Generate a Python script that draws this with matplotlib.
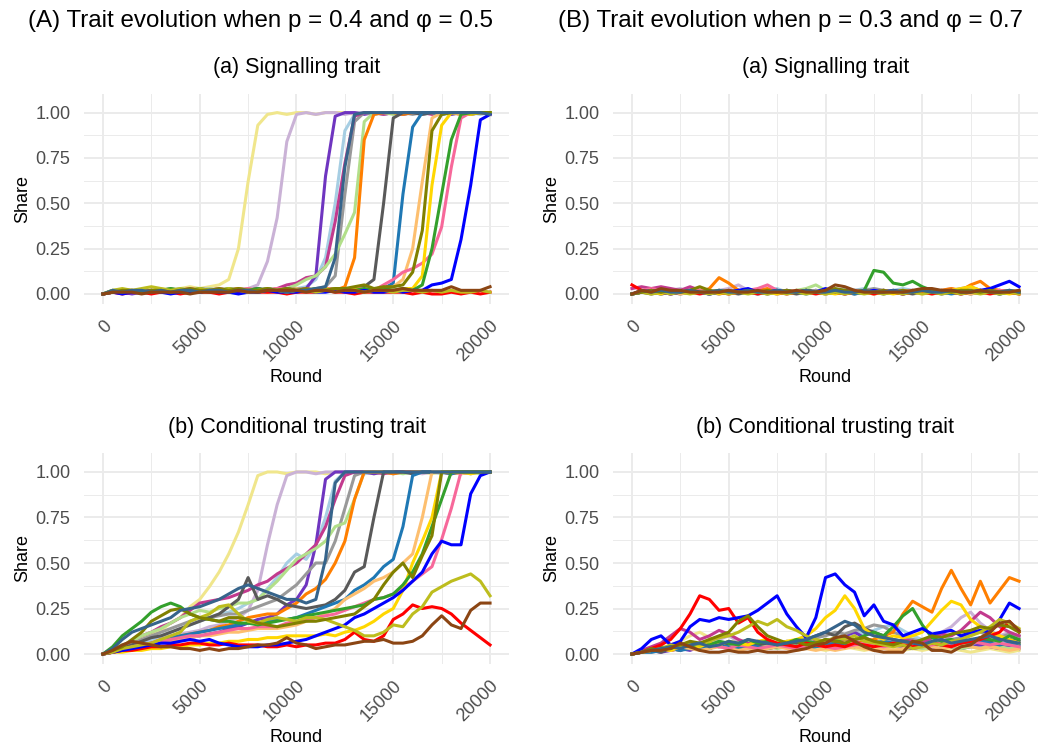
import matplotlib.pyplot as plt

plt.rcParams['font.family'] = ['Liberation Sans', 'DejaVu Sans']

# rounds at which the share is read (every 500 rounds)
ROUNDS = list(range(0, 20001, 500))

# one colour per simulation run, same order in every panel
COLOURS = ['#F0E68C', '#CAB2D6', '#A6CEE3', '#6F35C0', '#999999',
           '#C23A8E', '#B2DF8A', '#FF7F00', '#595959', '#1F78B4',
           '#FDBF6F', '#F7689A', '#FFD700', '#33A02C', '#FF0000',
           '#0000FF', '#BDBD1E', '#808000', '#36648B', '#8B4513']

MAIN_TITLES = ['(A) Trait evolution when p = 0.4 and \u03c6 = 0.5',
               '(B) Trait evolution when p = 0.3 and \u03c6 = 0.7']
SUB_TITLES = ['(a) Signalling trait', '(b) Conditional trusting trait']

# (A) signalling trait
SIG_A = [
    [0.00, 0.01, 0.01, 0.02, 0.01, 0.02, 0.03, 0.02, 0.03, 0.04,
     0.03, 0.04, 0.05, 0.08, 0.25, 0.62, 0.93, 0.99, 1.00, 0.99,
     1.00, 1.00, 0.99, 1.00, 1.00, 1.00, 0.99, 1.00, 1.00, 1.00,
     1.00, 0.99, 1.00, 1.00, 1.00, 1.00, 0.99, 1.00, 1.00, 1.00, 1.00],
    [0.00, 0.01, 0.02, 0.01, 0.02, 0.01, 0.02, 0.02, 0.03, 0.02,
     0.03, 0.03, 0.02, 0.03, 0.03, 0.03, 0.05, 0.18, 0.42, 0.84,
     0.99, 1.00, 0.99, 1.00, 1.00, 0.99, 1.00, 1.00, 1.00, 0.99,
     1.00, 1.00, 1.00, 0.99, 1.00, 1.00, 1.00, 1.00, 0.99, 1.00, 1.00],
    [0.00, 0.02, 0.01, 0.02, 0.01, 0.01, 0.02, 0.01, 0.02, 0.02,
     0.01, 0.02, 0.03, 0.02, 0.02, 0.03, 0.02, 0.03, 0.02, 0.03,
     0.03, 0.04, 0.08, 0.20, 0.50, 0.90, 0.99, 1.00, 1.00, 0.99,
     1.00, 1.00, 1.00, 0.99, 1.00, 1.00, 1.00, 1.00, 1.00, 0.99, 1.00],
    [0.00, 0.01, 0.01, 0.00, 0.01, 0.02, 0.01, 0.01, 0.02, 0.01,
     0.01, 0.02, 0.01, 0.02, 0.02, 0.01, 0.02, 0.02, 0.03, 0.02,
     0.02, 0.03, 0.10, 0.65, 0.98, 1.00, 1.00, 0.99, 1.00, 1.00,
     1.00, 0.99, 1.00, 1.00, 1.00, 1.00, 0.99, 1.00, 1.00, 1.00, 1.00],
    [0.00, 0.01, 0.02, 0.02, 0.01, 0.02, 0.02, 0.03, 0.02, 0.01,
     0.02, 0.02, 0.03, 0.02, 0.03, 0.02, 0.02, 0.03, 0.02, 0.03,
     0.03, 0.02, 0.03, 0.04, 0.10, 0.55, 0.95, 1.00, 0.99, 1.00,
     1.00, 1.00, 0.99, 1.00, 1.00, 1.00, 1.00, 0.99, 1.00, 1.00, 1.00],
    [0.00, 0.01, 0.02, 0.01, 0.02, 0.01, 0.01, 0.02, 0.02, 0.01,
     0.02, 0.02, 0.01, 0.02, 0.02, 0.02, 0.03, 0.02, 0.03, 0.05,
     0.06, 0.09, 0.10, 0.15, 0.40, 0.72, 0.98, 1.00, 1.00, 0.99,
     1.00, 1.00, 1.00, 1.00, 0.99, 1.00, 1.00, 1.00, 1.00, 1.00, 0.99],
    [0.00, 0.02, 0.01, 0.01, 0.02, 0.02, 0.01, 0.02, 0.03, 0.02,
     0.02, 0.03, 0.02, 0.02, 0.03, 0.02, 0.02, 0.03, 0.02, 0.03,
     0.05, 0.08, 0.10, 0.15, 0.22, 0.33, 0.45, 0.95, 1.00, 1.00,
     0.99, 1.00, 1.00, 1.00, 1.00, 0.99, 1.00, 1.00, 1.00, 1.00, 1.00],
    [0.00, 0.01, 0.01, 0.02, 0.01, 0.02, 0.01, 0.02, 0.02, 0.03,
     0.02, 0.02, 0.01, 0.02, 0.03, 0.02, 0.02, 0.01, 0.02, 0.02,
     0.03, 0.02, 0.02, 0.03, 0.02, 0.04, 0.20, 0.85, 0.99, 1.00,
     1.00, 0.99, 1.00, 1.00, 1.00, 1.00, 1.00, 0.99, 1.00, 1.00, 1.00],
    [0.00, 0.01, 0.01, 0.01, 0.02, 0.01, 0.02, 0.01, 0.02, 0.02,
     0.01, 0.02, 0.02, 0.01, 0.02, 0.02, 0.03, 0.02, 0.02, 0.03,
     0.02, 0.03, 0.02, 0.03, 0.02, 0.03, 0.03, 0.04, 0.08, 0.50,
     0.97, 1.00, 1.00, 0.99, 1.00, 1.00, 1.00, 1.00, 0.99, 1.00, 1.00],
    [0.00, 0.01, 0.02, 0.01, 0.01, 0.02, 0.01, 0.02, 0.01, 0.02,
     0.02, 0.01, 0.02, 0.02, 0.01, 0.02, 0.02, 0.03, 0.02, 0.02,
     0.03, 0.02, 0.02, 0.03, 0.02, 0.03, 0.02, 0.03, 0.03, 0.03,
     0.06, 0.55, 0.92, 1.00, 1.00, 0.99, 1.00, 1.00, 1.00, 1.00, 1.00],
    [0.00, 0.01, 0.01, 0.02, 0.02, 0.01, 0.02, 0.02, 0.01, 0.02,
     0.02, 0.02, 0.03, 0.02, 0.02, 0.03, 0.02, 0.02, 0.03, 0.02,
     0.03, 0.02, 0.03, 0.02, 0.03, 0.03, 0.02, 0.03, 0.03, 0.03,
     0.04, 0.08, 0.25, 0.62, 0.97, 1.00, 1.00, 0.99, 1.00, 1.00, 1.00],
    [0.00, 0.01, 0.02, 0.01, 0.02, 0.02, 0.01, 0.02, 0.02, 0.03,
     0.02, 0.02, 0.03, 0.02, 0.02, 0.03, 0.02, 0.02, 0.03, 0.03,
     0.02, 0.03, 0.02, 0.03, 0.03, 0.02, 0.03, 0.03, 0.02, 0.05,
     0.08, 0.12, 0.14, 0.17, 0.22, 0.37, 0.70, 0.97, 1.00, 1.00, 0.99],
    [0.00, 0.01, 0.01, 0.01, 0.02, 0.01, 0.01, 0.02, 0.01, 0.02,
     0.01, 0.02, 0.02, 0.01, 0.02, 0.02, 0.01, 0.02, 0.02, 0.02,
     0.01, 0.02, 0.02, 0.03, 0.02, 0.02, 0.03, 0.02, 0.02, 0.03,
     0.02, 0.03, 0.03, 0.10, 0.60, 0.93, 1.00, 1.00, 0.99, 1.00, 1.00],
    [0.00, 0.02, 0.02, 0.01, 0.02, 0.01, 0.02, 0.03, 0.02, 0.02,
     0.03, 0.02, 0.02, 0.03, 0.02, 0.02, 0.03, 0.02, 0.02, 0.03,
     0.02, 0.02, 0.03, 0.02, 0.03, 0.02, 0.02, 0.03, 0.02, 0.03,
     0.02, 0.03, 0.02, 0.05, 0.25, 0.55, 0.85, 0.99, 1.00, 1.00, 1.00],
    [0.00, 0.01, 0.00, 0.01, 0.01, 0.00, 0.01, 0.01, 0.00, 0.01,
     0.01, 0.01, 0.00, 0.01, 0.01, 0.02, 0.01, 0.01, 0.01, 0.00,
     0.01, 0.01, 0.01, 0.02, 0.01, 0.01, 0.00, 0.01, 0.01, 0.01,
     0.01, 0.01, 0.00, 0.01, 0.00, 0.00, 0.01, 0.00, 0.01, 0.00, 0.01],
    [0.00, 0.01, 0.00, 0.01, 0.01, 0.02, 0.01, 0.00, 0.01, 0.01,
     0.01, 0.02, 0.01, 0.01, 0.00, 0.01, 0.01, 0.02, 0.01, 0.01,
     0.01, 0.02, 0.01, 0.01, 0.02, 0.01, 0.01, 0.02, 0.01, 0.01,
     0.02, 0.01, 0.02, 0.02, 0.05, 0.06, 0.08, 0.30, 0.60, 0.96, 0.99],
    [0.00, 0.02, 0.03, 0.02, 0.03, 0.04, 0.03, 0.02, 0.03, 0.02,
     0.03, 0.02, 0.02, 0.03, 0.02, 0.01, 0.02, 0.03, 0.02, 0.01,
     0.02, 0.02, 0.01, 0.02, 0.03, 0.02, 0.02, 0.01, 0.02, 0.02,
     0.01, 0.02, 0.02, 0.01, 0.02, 0.01, 0.02, 0.01, 0.01, 0.02, 0.01],
    [0.00, 0.01, 0.02, 0.02, 0.01, 0.02, 0.02, 0.01, 0.02, 0.03,
     0.02, 0.02, 0.03, 0.02, 0.03, 0.02, 0.02, 0.03, 0.02, 0.03,
     0.02, 0.03, 0.02, 0.02, 0.03, 0.03, 0.04, 0.05, 0.03, 0.04,
     0.04, 0.05, 0.12, 0.35, 0.90, 0.99, 1.00, 1.00, 1.00, 1.00, 1.00],
    [0.00, 0.02, 0.01, 0.02, 0.02, 0.01, 0.02, 0.01, 0.02, 0.02,
     0.01, 0.02, 0.02, 0.01, 0.02, 0.02, 0.01, 0.02, 0.02, 0.01,
     0.02, 0.02, 0.03, 0.04, 0.20, 0.70, 0.99, 1.00, 1.00, 1.00,
     1.00, 1.00, 1.00, 1.00, 1.00, 1.00, 1.00, 1.00, 1.00, 1.00, 0.99],
    [0.00, 0.01, 0.01, 0.01, 0.00, 0.01, 0.01, 0.01, 0.01, 0.00,
     0.01, 0.01, 0.01, 0.01, 0.02, 0.01, 0.01, 0.02, 0.02, 0.02,
     0.02, 0.01, 0.02, 0.02, 0.01, 0.02, 0.02, 0.01, 0.02, 0.02,
     0.02, 0.03, 0.02, 0.02, 0.02, 0.02, 0.04, 0.02, 0.02, 0.02, 0.04],
]

# (A) conditional trusting trait
TRUST_A = [
    [0.00, 0.02, 0.04, 0.06, 0.08, 0.11, 0.13, 0.17, 0.20, 0.26,
     0.30, 0.37, 0.45, 0.55, 0.67, 0.82, 0.98, 1.00, 1.00, 0.99,
     1.00, 1.00, 1.00, 0.99, 1.00, 1.00, 1.00, 1.00, 0.99, 1.00,
     1.00, 1.00, 1.00, 1.00, 0.99, 1.00, 1.00, 1.00, 1.00, 1.00, 1.00],
    [0.00, 0.01, 0.03, 0.05, 0.06, 0.08, 0.09, 0.10, 0.11, 0.12,
     0.13, 0.15, 0.16, 0.18, 0.20, 0.24, 0.35, 0.60, 0.82, 0.98,
     1.00, 1.00, 0.99, 1.00, 1.00, 1.00, 1.00, 0.99, 1.00, 1.00,
     1.00, 1.00, 1.00, 0.99, 1.00, 1.00, 1.00, 1.00, 1.00, 1.00, 1.00],
    [0.00, 0.02, 0.03, 0.05, 0.07, 0.08, 0.10, 0.12, 0.14, 0.16,
     0.18, 0.20, 0.22, 0.23, 0.25, 0.28, 0.30, 0.36, 0.42, 0.50,
     0.55, 0.52, 0.60, 0.75, 0.95, 1.00, 1.00, 0.99, 1.00, 1.00,
     1.00, 1.00, 1.00, 1.00, 1.00, 0.99, 1.00, 1.00, 1.00, 1.00, 1.00],
    [0.00, 0.01, 0.02, 0.03, 0.04, 0.05, 0.06, 0.07, 0.08, 0.09,
     0.10, 0.11, 0.12, 0.14, 0.15, 0.17, 0.19, 0.20, 0.22, 0.27,
     0.30, 0.38, 0.60, 0.96, 1.00, 1.00, 1.00, 1.00, 0.99, 1.00,
     1.00, 1.00, 1.00, 1.00, 1.00, 1.00, 0.99, 1.00, 1.00, 1.00, 1.00],
    [0.00, 0.02, 0.04, 0.06, 0.08, 0.10, 0.12, 0.14, 0.16, 0.18,
     0.20, 0.20, 0.21, 0.22, 0.22, 0.24, 0.26, 0.28, 0.30, 0.34,
     0.38, 0.44, 0.50, 0.50, 0.62, 0.80, 0.98, 1.00, 1.00, 1.00,
     0.99, 1.00, 1.00, 1.00, 1.00, 1.00, 1.00, 1.00, 0.99, 1.00, 1.00],
    [0.00, 0.02, 0.04, 0.07, 0.10, 0.12, 0.15, 0.17, 0.20, 0.24,
     0.28, 0.29, 0.30, 0.31, 0.33, 0.35, 0.38, 0.40, 0.44, 0.47,
     0.50, 0.55, 0.60, 0.70, 0.85, 0.98, 1.00, 1.00, 1.00, 0.99,
     1.00, 1.00, 1.00, 1.00, 1.00, 1.00, 1.00, 0.99, 1.00, 1.00, 1.00],
    [0.00, 0.03, 0.05, 0.07, 0.10, 0.12, 0.14, 0.17, 0.20, 0.22,
     0.24, 0.23, 0.25, 0.26, 0.28, 0.28, 0.30, 0.35, 0.40, 0.46,
     0.52, 0.55, 0.58, 0.62, 0.70, 0.72, 0.85, 1.00, 1.00, 1.00,
     1.00, 0.99, 1.00, 1.00, 1.00, 1.00, 1.00, 1.00, 1.00, 0.99, 1.00],
    [0.00, 0.01, 0.02, 0.03, 0.05, 0.06, 0.08, 0.09, 0.10, 0.11,
     0.12, 0.13, 0.15, 0.16, 0.18, 0.20, 0.21, 0.22, 0.22, 0.25,
     0.28, 0.33, 0.36, 0.41, 0.50, 0.62, 0.85, 1.00, 1.00, 1.00,
     0.99, 1.00, 1.00, 1.00, 1.00, 1.00, 0.99, 1.00, 1.00, 1.00, 1.00],
    [0.00, 0.02, 0.03, 0.05, 0.07, 0.09, 0.10, 0.12, 0.14, 0.16,
     0.18, 0.20, 0.22, 0.26, 0.30, 0.42, 0.30, 0.32, 0.30, 0.27,
     0.26, 0.25, 0.26, 0.27, 0.30, 0.35, 0.45, 0.48, 0.75, 1.00,
     1.00, 1.00, 0.99, 1.00, 1.00, 1.00, 1.00, 1.00, 1.00, 1.00, 1.00],
    [0.00, 0.01, 0.02, 0.04, 0.05, 0.06, 0.07, 0.09, 0.10, 0.11,
     0.12, 0.13, 0.14, 0.15, 0.16, 0.17, 0.17, 0.18, 0.19, 0.19,
     0.20, 0.22, 0.24, 0.26, 0.28, 0.30, 0.35, 0.38, 0.42, 0.48,
     0.52, 0.70, 0.98, 1.00, 1.00, 1.00, 0.99, 1.00, 1.00, 1.00, 1.00],
    [0.00, 0.01, 0.02, 0.03, 0.04, 0.05, 0.06, 0.07, 0.08, 0.09,
     0.10, 0.10, 0.11, 0.12, 0.12, 0.13, 0.14, 0.14, 0.14, 0.15,
     0.16, 0.18, 0.20, 0.22, 0.25, 0.30, 0.33, 0.36, 0.40, 0.42,
     0.45, 0.50, 0.55, 0.75, 1.00, 1.00, 1.00, 0.99, 1.00, 1.00, 1.00],
    [0.00, 0.01, 0.02, 0.04, 0.05, 0.06, 0.07, 0.08, 0.09, 0.10,
     0.10, 0.11, 0.12, 0.13, 0.14, 0.14, 0.15, 0.15, 0.15, 0.17,
     0.18, 0.19, 0.20, 0.21, 0.22, 0.24, 0.26, 0.28, 0.30, 0.31,
     0.33, 0.36, 0.40, 0.44, 0.48, 0.63, 0.80, 1.00, 1.00, 1.00, 1.00],
    [0.00, 0.01, 0.01, 0.02, 0.02, 0.03, 0.03, 0.04, 0.04, 0.05,
     0.05, 0.06, 0.06, 0.07, 0.07, 0.08, 0.08, 0.09, 0.09, 0.10,
     0.10, 0.10, 0.10, 0.11, 0.10, 0.12, 0.13, 0.15, 0.18, 0.22,
     0.25, 0.35, 0.50, 0.62, 0.75, 1.00, 1.00, 1.00, 0.99, 1.00, 1.00],
    [0.00, 0.04, 0.10, 0.14, 0.18, 0.23, 0.26, 0.28, 0.26, 0.22,
     0.20, 0.19, 0.18, 0.18, 0.17, 0.17, 0.16, 0.17, 0.18, 0.19,
     0.20, 0.21, 0.22, 0.23, 0.24, 0.25, 0.26, 0.27, 0.30, 0.31,
     0.33, 0.38, 0.45, 0.55, 0.70, 0.85, 1.00, 1.00, 1.00, 1.00, 1.00],
    [0.00, 0.01, 0.02, 0.02, 0.03, 0.04, 0.04, 0.05, 0.05, 0.06,
     0.06, 0.05, 0.05, 0.06, 0.05, 0.05, 0.05, 0.04, 0.04, 0.05,
     0.04, 0.05, 0.05, 0.06, 0.06, 0.08, 0.12, 0.08, 0.07, 0.10,
     0.19, 0.22, 0.27, 0.25, 0.26, 0.25, 0.22, 0.17, 0.13, 0.09, 0.05],
    [0.00, 0.01, 0.02, 0.03, 0.04, 0.05, 0.06, 0.06, 0.07, 0.08,
     0.07, 0.08, 0.06, 0.05, 0.04, 0.04, 0.04, 0.05, 0.05, 0.06,
     0.07, 0.08, 0.10, 0.12, 0.14, 0.16, 0.20, 0.22, 0.25, 0.28,
     0.31, 0.35, 0.40, 0.45, 0.55, 0.62, 0.60, 0.60, 0.88, 0.98, 1.00],
    [0.00, 0.01, 0.03, 0.04, 0.05, 0.06, 0.08, 0.10, 0.12, 0.18,
     0.20, 0.22, 0.26, 0.27, 0.22, 0.18, 0.17, 0.19, 0.20, 0.19,
     0.18, 0.20, 0.20, 0.19, 0.17, 0.15, 0.13, 0.10, 0.10, 0.12,
     0.16, 0.15, 0.22, 0.26, 0.34, 0.37, 0.40, 0.42, 0.44, 0.40, 0.32],
    [0.00, 0.02, 0.04, 0.08, 0.12, 0.18, 0.21, 0.24, 0.25, 0.22,
     0.20, 0.19, 0.18, 0.20, 0.20, 0.19, 0.17, 0.16, 0.15, 0.16,
     0.17, 0.18, 0.18, 0.19, 0.20, 0.21, 0.22, 0.26, 0.30, 0.38,
     0.45, 0.50, 0.42, 0.54, 0.65, 1.00, 1.00, 1.00, 1.00, 1.00, 1.00],
    [0.00, 0.03, 0.08, 0.12, 0.14, 0.16, 0.18, 0.20, 0.24, 0.25,
     0.26, 0.28, 0.30, 0.33, 0.36, 0.38, 0.36, 0.34, 0.32, 0.30,
     0.30, 0.28, 0.30, 0.52, 0.94, 1.00, 1.00, 1.00, 1.00, 1.00,
     1.00, 1.00, 1.00, 1.00, 1.00, 1.00, 1.00, 1.00, 1.00, 1.00, 1.00],
    [0.00, 0.02, 0.05, 0.07, 0.06, 0.05, 0.04, 0.04, 0.03, 0.03,
     0.02, 0.03, 0.02, 0.03, 0.03, 0.04, 0.05, 0.05, 0.06, 0.09,
     0.06, 0.05, 0.03, 0.04, 0.05, 0.05, 0.06, 0.07, 0.07, 0.08,
     0.06, 0.06, 0.07, 0.10, 0.16, 0.21, 0.16, 0.14, 0.24, 0.28, 0.28],
]

# (B) signalling trait
SIG_B = [
    [0.00, 0.01, 0.00, 0.01, 0.01, 0.02, 0.01, 0.01, 0.00, 0.01,
     0.01, 0.02, 0.01, 0.01, 0.00, 0.01, 0.01, 0.02, 0.01, 0.01,
     0.00, 0.01, 0.01, 0.02, 0.01, 0.00, 0.01, 0.01, 0.02, 0.01,
     0.01, 0.00, 0.01, 0.02, 0.01, 0.01, 0.02, 0.01, 0.00, 0.01, 0.01],
    [0.00, 0.01, 0.02, 0.01, 0.02, 0.03, 0.01, 0.02, 0.01, 0.02,
     0.03, 0.05, 0.02, 0.01, 0.02, 0.01, 0.02, 0.01, 0.02, 0.01,
     0.02, 0.01, 0.02, 0.01, 0.02, 0.01, 0.02, 0.01, 0.02, 0.01,
     0.02, 0.01, 0.02, 0.03, 0.01, 0.02, 0.01, 0.02, 0.01, 0.02, 0.01],
    [0.00, 0.01, 0.02, 0.01, 0.01, 0.02, 0.01, 0.02, 0.02, 0.01,
     0.02, 0.01, 0.02, 0.01, 0.02, 0.03, 0.01, 0.02, 0.01, 0.02,
     0.01, 0.02, 0.03, 0.02, 0.03, 0.02, 0.01, 0.02, 0.03, 0.02,
     0.01, 0.02, 0.01, 0.02, 0.01, 0.02, 0.01, 0.02, 0.01, 0.02, 0.01],
    [0.00, 0.01, 0.01, 0.00, 0.01, 0.01, 0.02, 0.01, 0.01, 0.00,
     0.01, 0.01, 0.02, 0.01, 0.01, 0.00, 0.01, 0.01, 0.01, 0.02,
     0.01, 0.01, 0.00, 0.01, 0.01, 0.02, 0.01, 0.01, 0.00, 0.01,
     0.01, 0.02, 0.01, 0.01, 0.00, 0.01, 0.01, 0.02, 0.01, 0.01, 0.01],
    [0.00, 0.01, 0.01, 0.02, 0.01, 0.01, 0.02, 0.01, 0.02, 0.01,
     0.01, 0.02, 0.01, 0.01, 0.02, 0.01, 0.02, 0.01, 0.01, 0.02,
     0.01, 0.02, 0.01, 0.02, 0.02, 0.03, 0.02, 0.01, 0.02, 0.01,
     0.01, 0.02, 0.01, 0.02, 0.03, 0.04, 0.02, 0.01, 0.02, 0.01, 0.01],
    [0.03, 0.04, 0.03, 0.04, 0.03, 0.02, 0.04, 0.02, 0.01, 0.02,
     0.01, 0.02, 0.01, 0.02, 0.01, 0.01, 0.02, 0.01, 0.02, 0.01,
     0.01, 0.02, 0.01, 0.01, 0.02, 0.01, 0.02, 0.01, 0.01, 0.02,
     0.01, 0.02, 0.01, 0.02, 0.01, 0.01, 0.02, 0.01, 0.02, 0.01, 0.01],
    [0.00, 0.01, 0.01, 0.02, 0.01, 0.01, 0.02, 0.01, 0.01, 0.02,
     0.01, 0.01, 0.02, 0.01, 0.01, 0.02, 0.01, 0.02, 0.03, 0.05,
     0.02, 0.01, 0.02, 0.01, 0.02, 0.01, 0.02, 0.01, 0.01, 0.02,
     0.01, 0.02, 0.01, 0.01, 0.02, 0.01, 0.01, 0.02, 0.01, 0.01, 0.01],
    [0.00, 0.01, 0.01, 0.02, 0.01, 0.01, 0.02, 0.01, 0.03, 0.09,
     0.06, 0.02, 0.01, 0.02, 0.03, 0.01, 0.02, 0.01, 0.02, 0.01,
     0.02, 0.01, 0.02, 0.01, 0.02, 0.01, 0.02, 0.01, 0.02, 0.01,
     0.02, 0.01, 0.02, 0.03, 0.02, 0.05, 0.07, 0.03, 0.02, 0.01, 0.02],
    [0.00, 0.01, 0.00, 0.01, 0.01, 0.00, 0.01, 0.01, 0.00, 0.01,
     0.01, 0.00, 0.01, 0.01, 0.00, 0.01, 0.01, 0.00, 0.01, 0.01,
     0.00, 0.01, 0.01, 0.00, 0.01, 0.01, 0.00, 0.01, 0.01, 0.00,
     0.01, 0.01, 0.00, 0.01, 0.01, 0.00, 0.01, 0.01, 0.00, 0.01, 0.01],
    [0.00, 0.01, 0.01, 0.00, 0.01, 0.02, 0.01, 0.01, 0.00, 0.01,
     0.01, 0.02, 0.01, 0.00, 0.01, 0.01, 0.02, 0.01, 0.00, 0.01,
     0.01, 0.02, 0.01, 0.00, 0.01, 0.01, 0.02, 0.01, 0.00, 0.01,
     0.01, 0.02, 0.01, 0.00, 0.01, 0.01, 0.02, 0.01, 0.00, 0.01, 0.01],
    [0.00, 0.01, 0.02, 0.01, 0.01, 0.00, 0.01, 0.02, 0.01, 0.01,
     0.00, 0.01, 0.02, 0.01, 0.01, 0.00, 0.01, 0.02, 0.01, 0.01,
     0.00, 0.01, 0.02, 0.01, 0.01, 0.00, 0.01, 0.02, 0.01, 0.01,
     0.00, 0.01, 0.02, 0.01, 0.01, 0.00, 0.01, 0.02, 0.01, 0.01, 0.00],
    [0.00, 0.02, 0.03, 0.02, 0.01, 0.02, 0.01, 0.02, 0.01, 0.01,
     0.02, 0.01, 0.02, 0.03, 0.05, 0.02, 0.01, 0.02, 0.01, 0.01,
     0.02, 0.01, 0.01, 0.02, 0.01, 0.01, 0.02, 0.01, 0.01, 0.02,
     0.01, 0.01, 0.02, 0.01, 0.01, 0.02, 0.01, 0.01, 0.02, 0.01, 0.01],
    [0.00, 0.01, 0.01, 0.00, 0.01, 0.01, 0.02, 0.01, 0.01, 0.00,
     0.01, 0.01, 0.02, 0.01, 0.01, 0.00, 0.01, 0.01, 0.02, 0.01,
     0.01, 0.00, 0.01, 0.01, 0.02, 0.01, 0.01, 0.00, 0.01, 0.01,
     0.02, 0.01, 0.01, 0.02, 0.03, 0.04, 0.02, 0.01, 0.01, 0.00, 0.01],
    [0.00, 0.01, 0.01, 0.02, 0.01, 0.01, 0.02, 0.01, 0.01, 0.02,
     0.01, 0.01, 0.02, 0.01, 0.01, 0.02, 0.01, 0.01, 0.02, 0.01,
     0.01, 0.02, 0.01, 0.01, 0.02, 0.13, 0.12, 0.06, 0.05, 0.07,
     0.04, 0.02, 0.01, 0.01, 0.02, 0.01, 0.01, 0.02, 0.01, 0.01, 0.01],
    [0.05, 0.02, 0.01, 0.01, 0.00, 0.01, 0.01, 0.00, 0.01, 0.01,
     0.00, 0.01, 0.01, 0.00, 0.01, 0.01, 0.00, 0.01, 0.01, 0.00,
     0.01, 0.01, 0.00, 0.01, 0.01, 0.00, 0.01, 0.01, 0.00, 0.01,
     0.01, 0.00, 0.01, 0.01, 0.00, 0.01, 0.01, 0.00, 0.01, 0.01, 0.00],
    [0.00, 0.01, 0.02, 0.01, 0.00, 0.01, 0.02, 0.01, 0.00, 0.01,
     0.01, 0.02, 0.03, 0.01, 0.01, 0.02, 0.01, 0.01, 0.02, 0.01,
     0.03, 0.01, 0.02, 0.01, 0.01, 0.02, 0.01, 0.02, 0.01, 0.01,
     0.02, 0.01, 0.01, 0.02, 0.01, 0.01, 0.02, 0.03, 0.05, 0.07, 0.04],
    [0.00, 0.01, 0.00, 0.01, 0.00, 0.01, 0.00, 0.01, 0.00, 0.01,
     0.00, 0.01, 0.00, 0.01, 0.00, 0.01, 0.00, 0.01, 0.00, 0.01,
     0.00, 0.01, 0.00, 0.01, 0.00, 0.01, 0.00, 0.01, 0.00, 0.01,
     0.00, 0.01, 0.00, 0.01, 0.00, 0.01, 0.00, 0.01, 0.00, 0.01, 0.00],
    [0.00, 0.01, 0.02, 0.01, 0.02, 0.01, 0.02, 0.04, 0.02, 0.01,
     0.02, 0.01, 0.02, 0.01, 0.02, 0.01, 0.02, 0.01, 0.02, 0.01,
     0.02, 0.03, 0.02, 0.01, 0.02, 0.01, 0.02, 0.01, 0.02, 0.01,
     0.02, 0.01, 0.02, 0.01, 0.02, 0.02, 0.01, 0.02, 0.01, 0.02, 0.01],
    [0.00, 0.02, 0.01, 0.02, 0.01, 0.01, 0.02, 0.01, 0.01, 0.02,
     0.01, 0.01, 0.02, 0.01, 0.01, 0.02, 0.01, 0.01, 0.02, 0.01,
     0.01, 0.02, 0.01, 0.01, 0.02, 0.01, 0.01, 0.02, 0.01, 0.01,
     0.02, 0.01, 0.01, 0.02, 0.01, 0.01, 0.02, 0.01, 0.01, 0.02, 0.01],
    [0.00, 0.02, 0.01, 0.03, 0.02, 0.02, 0.01, 0.01, 0.01, 0.01,
     0.02, 0.01, 0.01, 0.02, 0.01, 0.01, 0.01, 0.02, 0.01, 0.01,
     0.02, 0.05, 0.04, 0.02, 0.01, 0.01, 0.01, 0.01, 0.01, 0.02,
     0.03, 0.03, 0.02, 0.02, 0.01, 0.01, 0.02, 0.01, 0.01, 0.01, 0.02],
]

# (B) conditional trusting trait
TRUST_B = [
    [0.00, 0.01, 0.02, 0.03, 0.05, 0.07, 0.10, 0.12, 0.09, 0.07,
     0.05, 0.06, 0.04, 0.05, 0.03, 0.04, 0.05, 0.03, 0.04, 0.03,
     0.02, 0.03, 0.04, 0.03, 0.02, 0.03, 0.04, 0.03, 0.02, 0.03,
     0.02, 0.03, 0.02, 0.03, 0.02, 0.01, 0.02, 0.03, 0.02, 0.01, 0.02],
    [0.00, 0.01, 0.02, 0.03, 0.04, 0.06, 0.05, 0.04, 0.06, 0.08,
     0.10, 0.07, 0.06, 0.05, 0.07, 0.06, 0.05, 0.06, 0.07, 0.08,
     0.06, 0.07, 0.09, 0.11, 0.13, 0.10, 0.08, 0.07, 0.06, 0.08,
     0.07, 0.09, 0.12, 0.15, 0.20, 0.23, 0.17, 0.13, 0.10, 0.12, 0.09],
    [0.00, 0.01, 0.02, 0.01, 0.03, 0.04, 0.03, 0.05, 0.04, 0.06,
     0.05, 0.04, 0.06, 0.05, 0.07, 0.06, 0.05, 0.07, 0.08, 0.06,
     0.07, 0.09, 0.10, 0.12, 0.11, 0.13, 0.15, 0.16, 0.13, 0.10,
     0.08, 0.07, 0.06, 0.05, 0.07, 0.06, 0.05, 0.06, 0.05, 0.04, 0.05],
    [0.00, 0.01, 0.02, 0.01, 0.02, 0.03, 0.02, 0.04, 0.03, 0.05,
     0.04, 0.06, 0.05, 0.07, 0.06, 0.05, 0.04, 0.06, 0.05, 0.07,
     0.06, 0.08, 0.10, 0.12, 0.09, 0.07, 0.06, 0.05, 0.04, 0.03,
     0.04, 0.03, 0.05, 0.04, 0.03, 0.04, 0.05, 0.04, 0.03, 0.04, 0.03],
    [0.00, 0.01, 0.01, 0.02, 0.03, 0.02, 0.04, 0.03, 0.05, 0.04,
     0.06, 0.05, 0.04, 0.06, 0.07, 0.05, 0.06, 0.08, 0.07, 0.09,
     0.10, 0.12, 0.11, 0.13, 0.14, 0.16, 0.15, 0.12, 0.10, 0.08,
     0.07, 0.09, 0.10, 0.08, 0.09, 0.11, 0.12, 0.10, 0.09, 0.11, 0.10],
    [0.00, 0.02, 0.04, 0.06, 0.10, 0.14, 0.12, 0.08, 0.10, 0.13,
     0.11, 0.08, 0.06, 0.05, 0.07, 0.04, 0.05, 0.06, 0.05, 0.07,
     0.05, 0.06, 0.08, 0.07, 0.06, 0.05, 0.07, 0.06, 0.08, 0.07,
     0.06, 0.09, 0.11, 0.10, 0.13, 0.18, 0.23, 0.20, 0.15, 0.12, 0.10],
    [0.00, 0.01, 0.02, 0.03, 0.02, 0.04, 0.03, 0.05, 0.04, 0.06,
     0.05, 0.04, 0.03, 0.05, 0.04, 0.03, 0.04, 0.05, 0.03, 0.04,
     0.05, 0.04, 0.06, 0.05, 0.04, 0.06, 0.07, 0.06, 0.05, 0.04,
     0.03, 0.04, 0.05, 0.04, 0.03, 0.04, 0.03, 0.05, 0.04, 0.03, 0.04],
    [0.00, 0.01, 0.02, 0.03, 0.02, 0.03, 0.04, 0.03, 0.04, 0.05,
     0.04, 0.03, 0.05, 0.04, 0.03, 0.04, 0.05, 0.04, 0.05, 0.06,
     0.05, 0.04, 0.06, 0.05, 0.07, 0.08, 0.10, 0.12, 0.22, 0.29,
     0.26, 0.23, 0.36, 0.46, 0.36, 0.27, 0.40, 0.28, 0.35, 0.42, 0.40],
    [0.00, 0.01, 0.02, 0.01, 0.03, 0.02, 0.04, 0.03, 0.05, 0.04,
     0.06, 0.05, 0.04, 0.05, 0.06, 0.05, 0.07, 0.06, 0.08, 0.10,
     0.12, 0.10, 0.15, 0.17, 0.14, 0.12, 0.10, 0.08, 0.07, 0.06,
     0.05, 0.04, 0.06, 0.05, 0.07, 0.06, 0.08, 0.07, 0.09, 0.08, 0.07],
    [0.00, 0.01, 0.01, 0.02, 0.03, 0.02, 0.03, 0.04, 0.03, 0.05,
     0.04, 0.03, 0.05, 0.04, 0.03, 0.04, 0.05, 0.04, 0.03, 0.04,
     0.05, 0.06, 0.05, 0.04, 0.05, 0.06, 0.07, 0.06, 0.05, 0.04,
     0.05, 0.06, 0.05, 0.04, 0.05, 0.06, 0.07, 0.06, 0.05, 0.06, 0.05],
    [0.00, 0.01, 0.02, 0.03, 0.02, 0.04, 0.03, 0.02, 0.03, 0.04,
     0.03, 0.02, 0.03, 0.02, 0.03, 0.04, 0.03, 0.02, 0.03, 0.02,
     0.03, 0.02, 0.03, 0.04, 0.03, 0.02, 0.03, 0.02, 0.03, 0.04,
     0.05, 0.04, 0.03, 0.04, 0.05, 0.04, 0.03, 0.04, 0.03, 0.02, 0.03],
    [0.00, 0.01, 0.02, 0.03, 0.04, 0.05, 0.04, 0.06, 0.05, 0.04,
     0.03, 0.05, 0.04, 0.03, 0.04, 0.05, 0.04, 0.03, 0.04, 0.05,
     0.04, 0.03, 0.04, 0.05, 0.06, 0.05, 0.04, 0.05, 0.06, 0.05,
     0.04, 0.05, 0.06, 0.05, 0.06, 0.07, 0.06, 0.05, 0.06, 0.05, 0.04],
    [0.00, 0.01, 0.02, 0.03, 0.02, 0.04, 0.05, 0.04, 0.06, 0.05,
     0.07, 0.06, 0.05, 0.07, 0.08, 0.06, 0.07, 0.08, 0.10, 0.14,
     0.20, 0.24, 0.32, 0.25, 0.14, 0.10, 0.08, 0.10, 0.09, 0.10,
     0.12, 0.18, 0.24, 0.29, 0.27, 0.19, 0.15, 0.12, 0.10, 0.08, 0.06],
    [0.00, 0.01, 0.02, 0.04, 0.03, 0.05, 0.04, 0.06, 0.05, 0.07,
     0.06, 0.05, 0.08, 0.06, 0.07, 0.05, 0.06, 0.08, 0.07, 0.06,
     0.08, 0.07, 0.09, 0.08, 0.10, 0.12, 0.10, 0.15, 0.21, 0.25,
     0.16, 0.09, 0.07, 0.08, 0.06, 0.07, 0.09, 0.08, 0.07, 0.10, 0.08],
    [0.00, 0.01, 0.03, 0.05, 0.08, 0.14, 0.22, 0.32, 0.30, 0.24,
     0.25, 0.17, 0.20, 0.12, 0.08, 0.06, 0.05, 0.04, 0.06, 0.05,
     0.04, 0.05, 0.04, 0.06, 0.05, 0.04, 0.05, 0.06, 0.05, 0.04,
     0.05, 0.06, 0.05, 0.04, 0.06, 0.07, 0.08, 0.10, 0.12, 0.18, 0.12],
    [0.00, 0.03, 0.08, 0.10, 0.05, 0.07, 0.15, 0.19, 0.18, 0.20,
     0.19, 0.20, 0.21, 0.24, 0.28, 0.32, 0.22, 0.15, 0.09, 0.20,
     0.42, 0.44, 0.38, 0.34, 0.21, 0.27, 0.18, 0.16, 0.10, 0.12,
     0.14, 0.11, 0.12, 0.13, 0.10, 0.12, 0.13, 0.12, 0.19, 0.28, 0.25],
    [0.00, 0.01, 0.02, 0.03, 0.05, 0.04, 0.06, 0.05, 0.07, 0.09,
     0.10, 0.12, 0.15, 0.18, 0.16, 0.19, 0.15, 0.13, 0.10, 0.08,
     0.07, 0.09, 0.08, 0.10, 0.07, 0.06, 0.05, 0.04, 0.05, 0.03,
     0.04, 0.06, 0.05, 0.07, 0.08, 0.10, 0.12, 0.15, 0.19, 0.17, 0.14],
    [0.00, 0.01, 0.03, 0.02, 0.04, 0.05, 0.07, 0.06, 0.08, 0.10,
     0.12, 0.18, 0.21, 0.15, 0.10, 0.08, 0.06, 0.07, 0.05, 0.06,
     0.08, 0.07, 0.06, 0.08, 0.09, 0.07, 0.06, 0.05, 0.07, 0.06,
     0.08, 0.10, 0.09, 0.11, 0.12, 0.13, 0.15, 0.14, 0.16, 0.15, 0.12],
    [0.00, 0.01, 0.02, 0.03, 0.04, 0.03, 0.05, 0.06, 0.04, 0.05,
     0.07, 0.06, 0.08, 0.07, 0.06, 0.05, 0.06, 0.07, 0.08, 0.10,
     0.12, 0.15, 0.18, 0.16, 0.12, 0.10, 0.09, 0.08, 0.07, 0.06,
     0.05, 0.07, 0.08, 0.06, 0.07, 0.08, 0.09, 0.10, 0.08, 0.07, 0.06],
    [0.00, 0.01, 0.02, 0.02, 0.03, 0.06, 0.04, 0.02, 0.01, 0.01,
     0.02, 0.01, 0.01, 0.02, 0.01, 0.01, 0.01, 0.02, 0.03, 0.05,
     0.06, 0.09, 0.10, 0.07, 0.04, 0.02, 0.01, 0.01, 0.01, 0.07,
     0.06, 0.02, 0.02, 0.01, 0.04, 0.05, 0.09, 0.12, 0.17, 0.18, 0.13],
]

W, H = 1038, 751
fig = plt.figure(figsize=(W / 100, H / 100), dpi=100)


def add_panel(left, top, right, bottom):
    return fig.add_axes([left / W, 1 - bottom / H, (right - left) / W, (bottom - top) / H])


# panel boxes in pixels: left, top, right, bottom
panels = [
    ((83.6, 94, 509.4, 303.5), SIG_A),
    ((612.6, 94, 1038.4, 303.5), SIG_B),
    ((83.6, 453.3, 509.4, 663.6), TRUST_A),
    ((612.6, 453.3, 1038.4, 663.6), TRUST_B),
]

for (box, data) in panels:
    ax = add_panel(*box)
    for row, col in zip(data, COLOURS):
        ax.plot(ROUNDS, row, color=col, lw=2.2, solid_joinstyle='round')

    ax.set_xlim(-1000, 21000)
    ax.set_ylim(-0.0525, 1.1025)
    ax.set_xticks([0, 5000, 10000, 15000, 20000])
    ax.set_xticks([2500, 7500, 12500, 17500], minor=True)
    ax.set_yticks([0, 0.25, 0.5, 0.75, 1.0])
    ax.set_yticklabels(['0.00', '0.25', '0.50', '0.75', '1.00'])
    ax.set_yticks([0.125, 0.375, 0.625, 0.875], minor=True)
    ax.grid(which='major', color='#EBEBEB', lw=1.4)
    ax.grid(which='minor', color='#EBEBEB', lw=0.7)
    ax.set_axisbelow(True)
    for s in ax.spines.values():
        s.set_visible(False)
    ax.tick_params(which='both', length=0, labelsize=13, labelcolor='#4D4D4D')
    ax.tick_params(axis='y', pad=9.5)
    ax.tick_params(axis='x', pad=10)
    for lab in ax.get_xticklabels():
        lab.set_rotation(45)
        lab.set_ha('right')
        lab.set_va('top')
        lab.set_rotation_mode('anchor')

    left, top, right, bottom = box
    cx = (left + right) / 2
    fig.text((left - 61) / W, 1 - (top + bottom) / 2 / H, 'Share', rotation=90,
             ha='center', va='center', fontsize=13)
    fig.text(cx / W, 1 - (bottom + 73.5) / H, 'Round', ha='center', va='center', fontsize=13)
    sub = SUB_TITLES[0] if top < 200 else SUB_TITLES[1]
    fig.text(cx / W, 1 - (top - 26) / H, sub, ha='center', va='center', fontsize=15.5)

fig.text(260 / W, 1 - 21 / H, MAIN_TITLES[0], ha='center', va='center', fontsize=17.4)
fig.text(790 / W, 1 - 21 / H, MAIN_TITLES[1], ha='center', va='center', fontsize=17.4)

fig.savefig('out.png', dpi=100)
